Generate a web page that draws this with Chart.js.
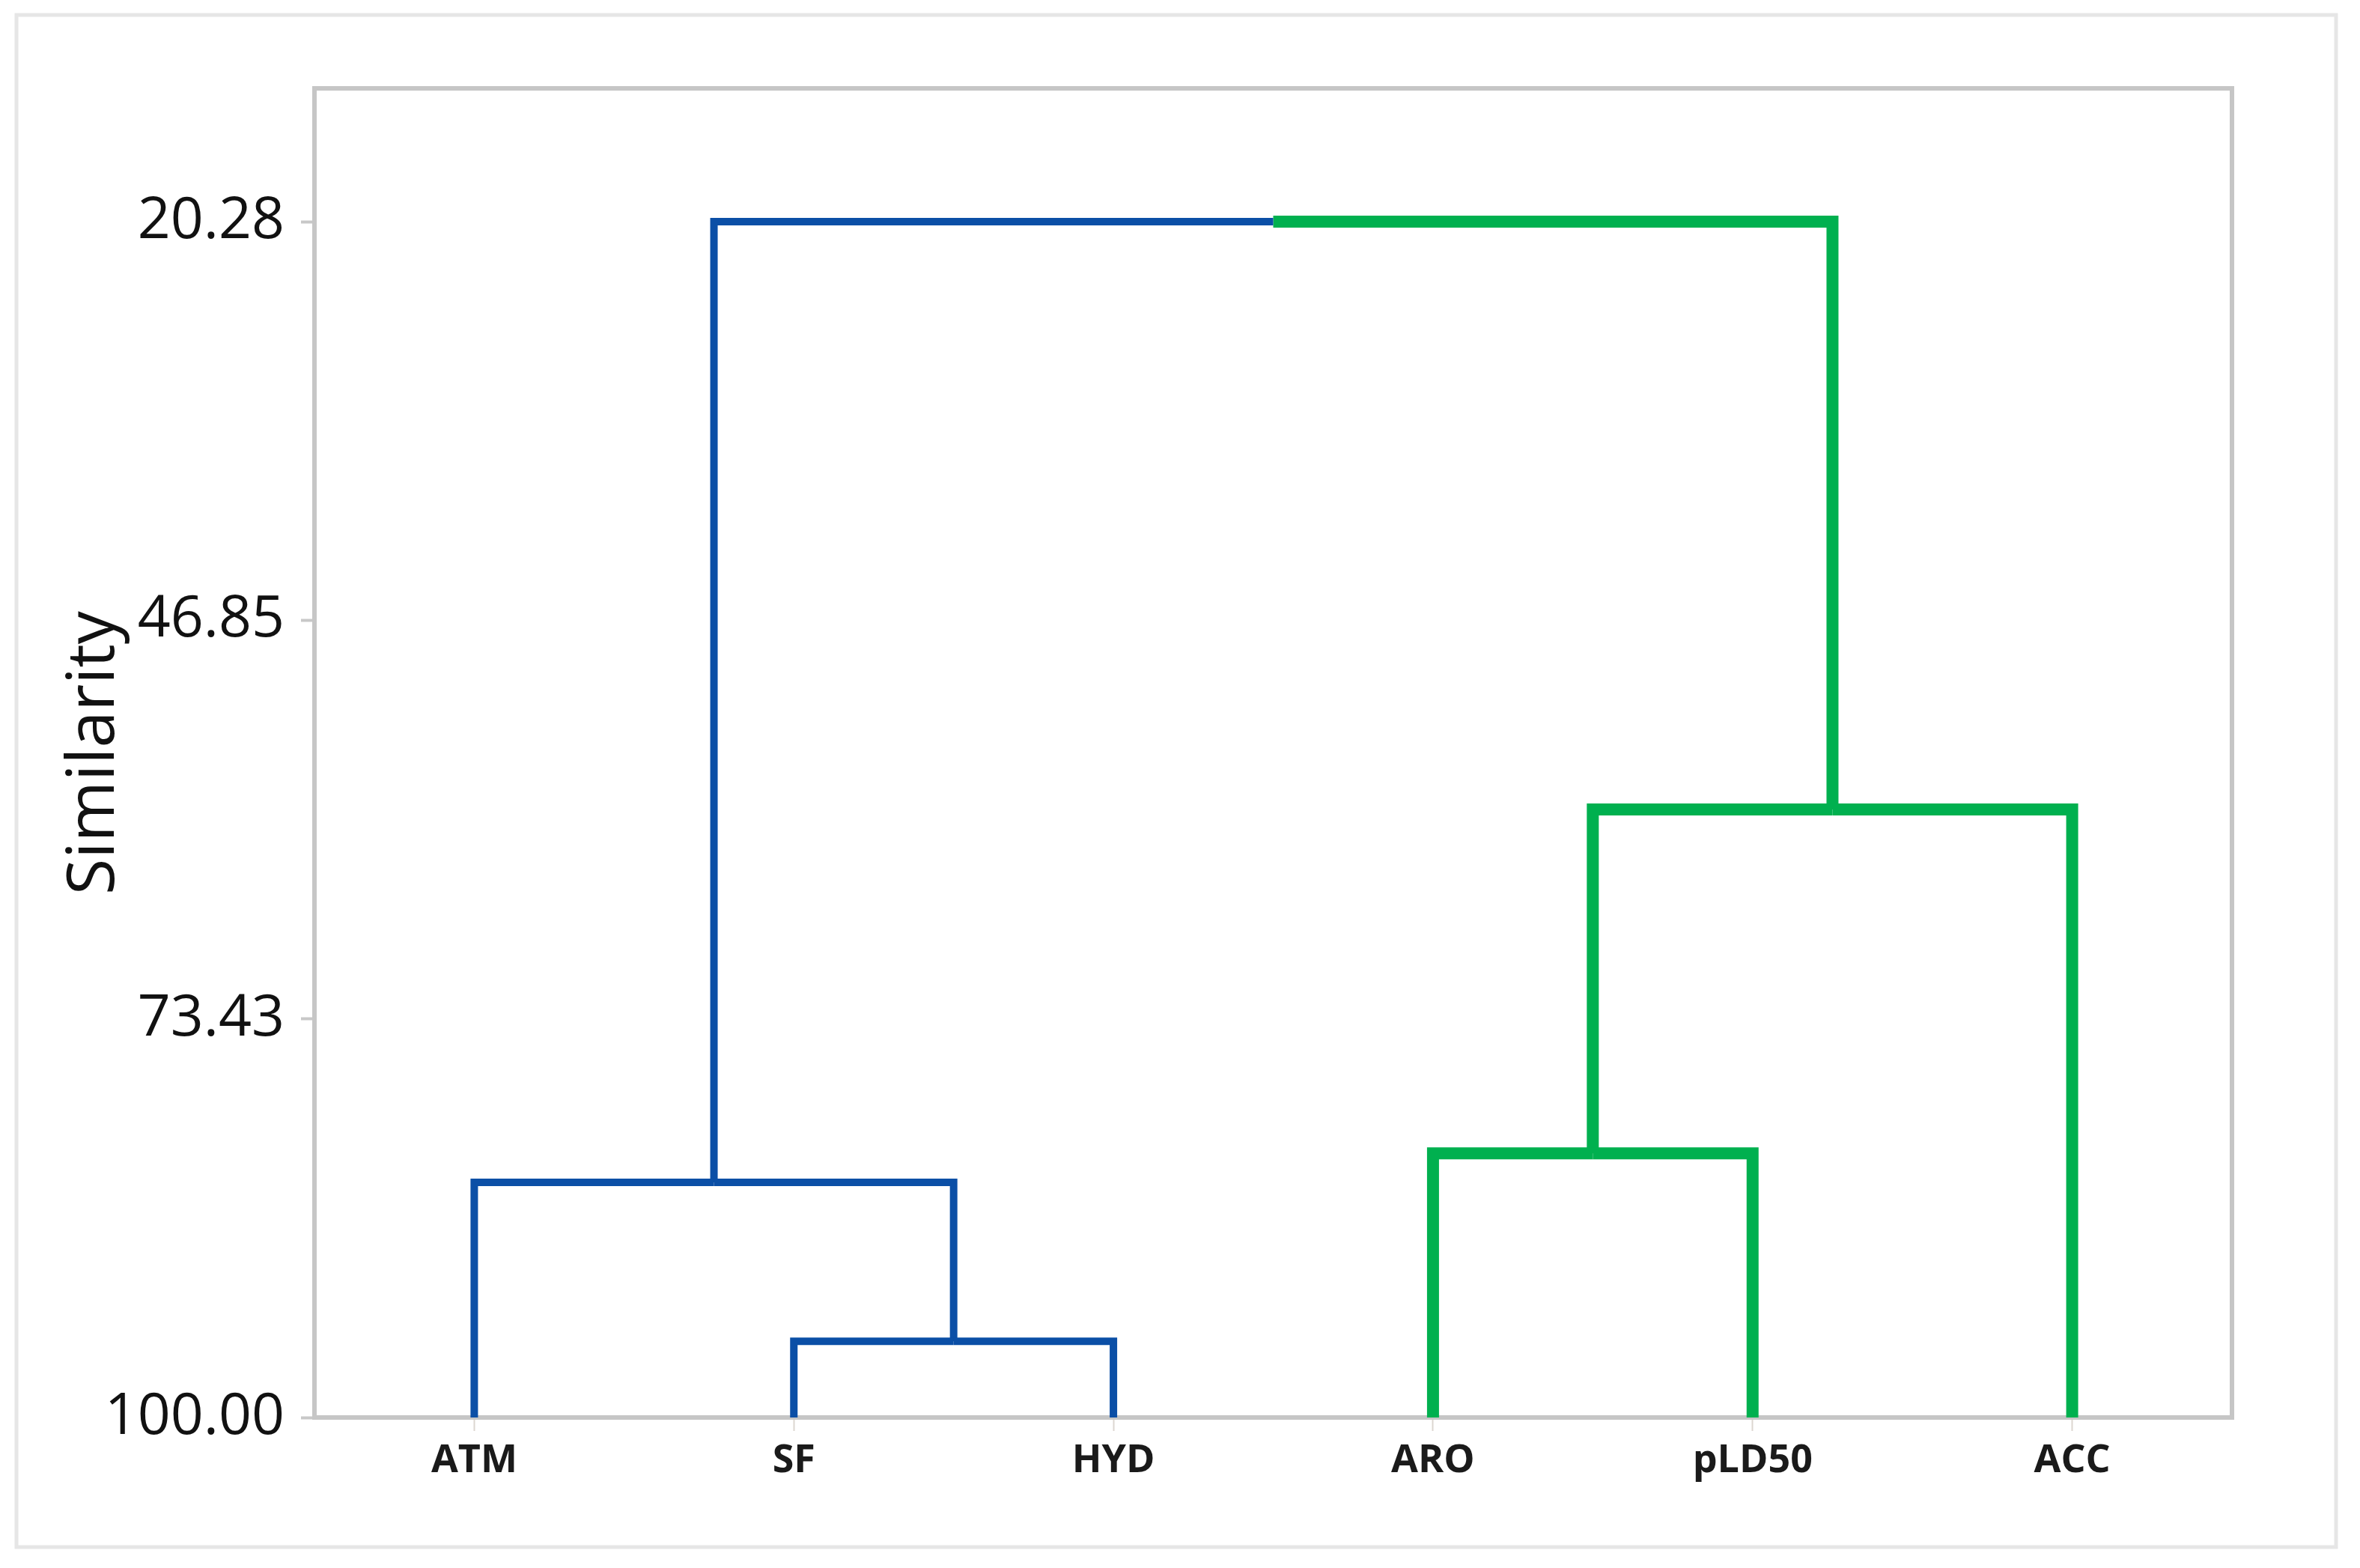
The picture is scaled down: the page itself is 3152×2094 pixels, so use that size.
<!DOCTYPE html>
<html lang="en">
<head>
  <meta charset="UTF-8">
  <title>Dendrogram - Similarity</title>
  <script src="https://cdn.jsdelivr.net/npm/chart.js"></script>
  <style>
    html, body {
      margin: 0;
      padding: 0;
      background: #ffffff;
    }
    canvas {
      display: block;
    }
  </style>
</head>
<body>
  <canvas id="dendro" width="3152" height="2094"></canvas>

  <script>
    // leaves in plotted order
    const leaves = ['ATM', 'SF', 'HYD', 'ARO', 'pLD50', 'ACC'];
    const leafGroup = [0, 0, 0, 1, 1, 1];

    // merges: new cluster ids start at leaves.length (6, 7, 8, ...)
    const mergeLeft = [1, 0, 3, 8, 7];
    const mergeRight = [2, 6, 4, 5, 9];
    const mergeSimilarity = [94.92, 84.33, 82.39, 59.47, 20.28];

    const yTicks = [20.28, 46.85, 73.43, 100.00];

    const groupColors = ['#0b4fa6', '#00b04f'];
    const groupWidths = [10, 16];

    // position / height / group of every cluster
    const nodeX = leaves.map((_, i) => i);
    const nodeY = leaves.map(() => 100);
    const nodeGroup = leafGroup.slice();

    const datasets = [];
    mergeLeft.forEach((a, k) => {
      const b = mergeRight[k];
      const h = mergeSimilarity[k];
      const mid = (nodeX[a] + nodeX[b]) / 2;

      [[a, 1], [b, -1]].forEach(([child]) => {
        const g = nodeGroup[child];
        datasets.push({
          data: [
            { x: nodeX[child], y: nodeY[child] },
            { x: nodeX[child], y: h },
            { x: mid, y: h }
          ],
          borderColor: groupColors[g],
          borderWidth: groupWidths[g],
          borderJoinStyle: 'miter',
          borderCapStyle: 'butt',
          pointRadius: 0,
          tension: 0,
          fill: false
        });
      });

      nodeX.push(mid);
      nodeY.push(h);
      nodeGroup.push(nodeGroup[a] === nodeGroup[b] ? nodeGroup[a] : -1);
    });

    const frame = {
      id: 'frame',
      beforeDraw(chart) {
        const ctx = chart.ctx;
        ctx.save();
        ctx.fillStyle = '#ffffff';
        ctx.fillRect(0, 0, chart.width, chart.height);
        ctx.strokeStyle = '#e6e6e6';
        ctx.lineWidth = 5;
        ctx.strokeRect(22, 20, 3098, 2046);
        ctx.restore();
      },
      beforeDatasetsDraw(chart) {
        const a = chart.chartArea;
        const ctx = chart.ctx;
        ctx.save();
        ctx.strokeStyle = '#c6c6c6';
        ctx.lineWidth = 6;
        ctx.strokeRect(a.left, a.top, a.right - a.left, a.bottom - a.top);
        ctx.restore();
      }
    };

    new Chart(document.getElementById('dendro'), {
      type: 'line',
      data: { datasets: datasets },
      plugins: [frame],
      options: {
        responsive: false,
        animation: false,
        devicePixelRatio: 1,
        layout: {
          padding: { top: 118, right: 171, left: 0, bottom: 0 }
        },
        plugins: {
          legend: { display: false },
          tooltip: { enabled: false }
        },
        scales: {
          x: {
            type: 'linear',
            min: -0.5,
            max: 5.5,
            afterBuildTicks: scale => {
              scale.ticks = leaves.map((_, i) => ({ value: i }));
            },
            afterFit: scale => { scale.height = 201; },
            border: { display: false },
            grid: {
              drawOnChartArea: false,
              drawTicks: true,
              tickLength: 18,
              tickColor: '#dcd6d0',
              tickWidth: 2
            },
            ticks: {
              autoSkip: false,
              maxRotation: 0,
              padding: 9,
              color: '#1a1a1a',
              font: { family: "'Open Sans', 'Noto Sans', sans-serif", size: 52, weight: 'bold' },
              callback: value => leaves[value]
            }
          },
          y: {
            type: 'linear',
            reverse: true,
            min: 11.39,
            max: 100,
            afterBuildTicks: scale => {
              scale.ticks = yTicks.map(v => ({ value: v }));
            },
            afterFit: scale => { scale.width = 420; },
            border: { display: false },
            grid: {
              drawOnChartArea: false,
              drawTicks: true,
              tickLength: 18,
              tickColor: '#c8c8c8',
              tickWidth: 4
            },
            ticks: {
              padding: 22,
              color: '#111111',
              font: { family: "'Open Sans', 'Noto Sans', sans-serif", size: 77 },
              callback: value => value.toFixed(2)
            },
            title: {
              display: true,
              text: 'Similarity',
              color: '#111111',
              padding: { top: 74, bottom: 0 },
              font: { family: "'Open Sans', 'Noto Sans', sans-serif", size: 88 }
            }
          }
        }
      }
    });
  </script>
</body>
</html>
